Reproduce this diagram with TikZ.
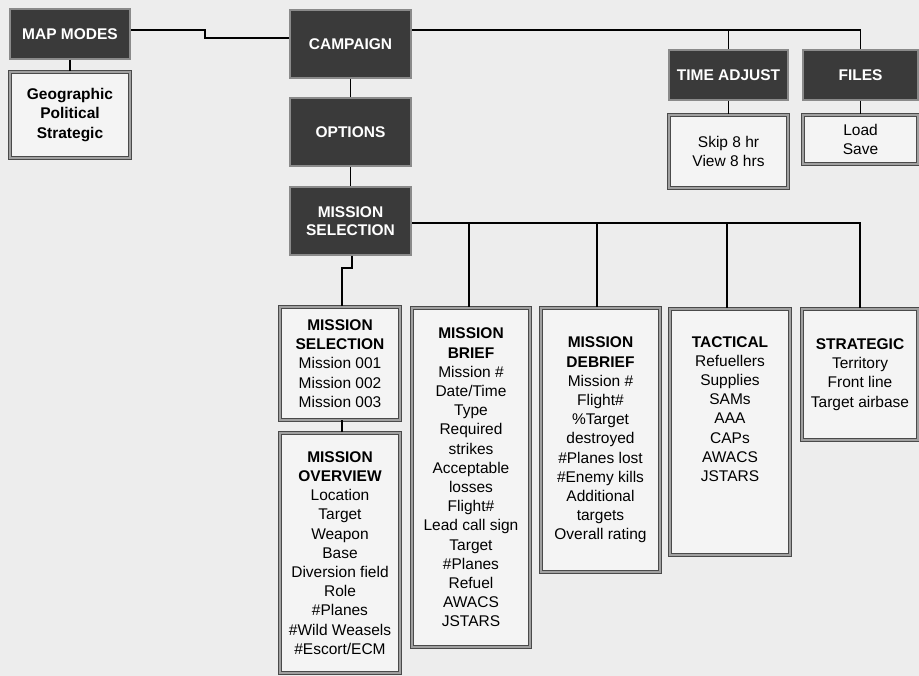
\documentclass[tikz,border=0pt]{standalone}
\usepackage{fontspec}
\setmainfont{Liberation Sans}
\definecolor{bg}{HTML}{EDEDED}
\definecolor{darkfill}{HTML}{3A3A3A}
\definecolor{darkedge}{HTML}{8A8A8A}
\definecolor{lightfill}{HTML}{F4F4F4}
\definecolor{lightedge}{HTML}{4A4A4A}
\definecolor{lightdouble}{HTML}{A0A0A0}
\begin{document}
\begin{tikzpicture}[x=1pt,y=-1pt,
  dark/.style={draw=darkedge, line width=2pt, fill=darkfill, text=white,
    font=\fontsize{15.5}{18.5}\selectfont\bfseries, align=center, inner sep=0pt},
  light/.style={draw=lightedge, double=lightdouble, double distance=1.4pt,
    line width=1pt, fill=lightfill, font=\fontsize{15.5}{19.2}\selectfont,
    align=center, inner sep=0pt},
  plain/.style={font=\fontsize{15.5}{19.2}\selectfont, align=center, inner sep=0pt},
  link/.style={line width=1.6pt, draw=black}]
\fill[bg] (0,0) rectangle (919,676);
\useasboundingbox (0,0) rectangle (919,676);

% dark boxes
\node[dark, minimum width=120pt, minimum height=50pt] (mapmodes) at (70,34) {MAP MODES};
\node[dark, minimum width=121pt, minimum height=68pt] (campaign) at (350.5,44) {CAMPAIGN};
\node[dark, minimum width=121pt, minimum height=68pt] (options) at (350.5,132) {OPTIONS};
\node[dark, minimum width=121pt, minimum height=68pt] (missel) at (350.5,221) {MISSION\\SELECTION};
\node[dark, minimum width=119pt, minimum height=50pt] (timeadj) at (728.5,75) {TIME ADJUST};
\node[dark, minimum width=115pt, minimum height=50pt] (files) at (860.5,75) {FILES};

% light boxes
\node[light, minimum width=120pt, minimum height=86pt] (geo) at (70,115) {\bfseries Geographic\\\bfseries Political\\\bfseries Strategic};
\node[light, minimum width=119pt, minimum height=73pt] (skip) at (728.5,151.5) {Skip 8 hr\\View 8 hrs};
\node[light, minimum width=115pt, minimum height=49pt] (load) at (860.5,139.5) {Load\\Save};
\node[light, minimum width=120pt, minimum height=113pt] (wsel) at (340,363.5)
  {\bfseries MISSION\\\bfseries SELECTION\\Mission 001\\Mission 002\\Mission 003};
\node[light, minimum width=120pt, minimum height=240pt] (overview) at (340,553)
  {\bfseries MISSION\\\bfseries OVERVIEW\\Location\\Target\\Weapon\\Base\\Diversion field\\Role\\\#Planes\\\#Wild Weasels\\\#Escort/ECM};
\node[light, minimum width=118pt, minimum height=339pt] (brief) at (471,477.5)
  {\bfseries MISSION\\\bfseries BRIEF\\Mission \#\\Date/Time\\Type\\Required\\strikes\\Acceptable\\losses\\Flight\#\\Lead call sign\\Target\\\#Planes\\Refuel\\AWACS\\JSTARS};
\node[light, minimum width=119pt, minimum height=264pt] (debrief) at (600.5,440)
  {\bfseries MISSION\\\bfseries DEBRIEF\\Mission \#\\Flight\#\\\%Target\\destroyed\\\#Planes lost\\\#Enemy kills\\Additional\\targets\\Overall rating};
\node[light, minimum width=120pt, minimum height=246pt] (tactical) at (730,432) {};
\node[plain, anchor=north] (tactxt) at (730,336)
  {\bfseries TACTICAL\\Refuellers\\Supplies\\SAMs\\AAA\\CAPs\\AWACS\\JSTARS};
\node[light, minimum width=116pt, minimum height=131pt] (strategic) at (860,374.5)
  {\bfseries STRATEGIC\\Territory\\Front line\\Target airbase};

% junction coordinates
\coordinate (j1) at (205,30);
\coordinate (j2) at (205,38);
\coordinate (cTA) at (728.5,30);
\coordinate (cF) at (860.5,30);
\coordinate (mB) at (469,223);
\coordinate (mD) at (597,223);
\coordinate (mT) at (727,223);
\coordinate (mS) at (860,223);
\coordinate (k1) at (352,268);
\coordinate (k2) at (342,268);

% connectors
\draw[link] ([yshift=4pt]mapmodes.east) -- (j1) -- (j2) -- ([yshift=6pt]campaign.west);
\draw[link] (mapmodes.south) -- (geo.north);
\draw[link] ([yshift=14pt]campaign.east) -- (cF) -- (files.north);
\draw[link] (cTA) -- (timeadj.north);
\draw[link] (timeadj.south) -- (skip.north);
\draw[link] (files.south) -- (load.north);
\draw[link] (campaign.south) -- (options.north);
\draw[link] (options.south) -- (missel.north);
\draw[link] ([yshift=-2pt]missel.east) -- (mS) -- (strategic.north);
\draw[link] (mB) -- (mB |- brief.north);
\draw[link] (mD) -- (mD |- debrief.north);
\draw[link] (mT) -- (mT |- tactical.north);
\draw[link] ([xshift=1.5pt]missel.south) -- (k1) -- (k2) -- (k2 |- wsel.north);
\draw[link] (k2 |- wsel.south) -- (k2 |- overview.north);
\end{tikzpicture}
\end{document}
